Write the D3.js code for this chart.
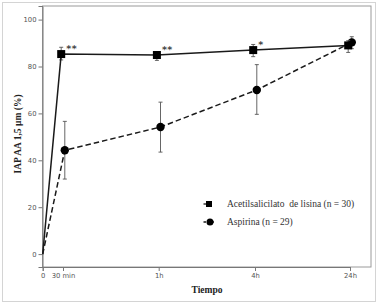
<!DOCTYPE html>
<html><head><meta charset="utf-8">
<script src="https://cdn.jsdelivr.net/npm/d3@7"></script>
<style>
html,body{margin:0;padding:0;background:#fff;}
svg{display:block;}
</style></head>
<body>
<svg id="c" width="378" height="304"></svg>
<script>
// ---- data ----
const timeLabels = ["0", "30 min", "1h", "4h", "24h"];
const timeKeys = [0, 0.5, 1, 4, 24];
const yTicks = [0, 20, 40, 60, 80, 100];

const lisinaMean = [0, 85.3, 84.9, 87.0, 89.0];
const lisinaLow  = [null, 82.8, 82.6, 84.2, 86.0];
const lisinaHigh = [null, 88.2, 86.3, 89.4, 91.0];

const aspirinaMean = [0, 44.3, 54.2, 70.0, 90.3];
const aspirinaLow  = [null, 32.0, 43.5, 59.6, 87.6];
const aspirinaHigh = [null, 56.6, 64.8, 80.8, 92.7];

const signif = ["", "**", "**", "*", ""];
const legendLabels = ["Acetilsalicilato  de lisina (n = 30)", "Aspirina (n = 29)"];
const yTitle = "IAP AA 1,5 µm (%)";
const xTitle = "Tiempo";

// ---- layout ----
const svg = d3.select("#c");
const L = 42.5, R = 371, T = 6, B = 267;
const SERIF = "'Liberation Serif', 'Times New Roman', Times, serif";

const x = d3.scaleLinear().domain(timeKeys).range([42.7, 63, 158.7, 255, 350]);
const y = d3.scaleLinear().domain([-5.5, 105.8]).range([B, T]);

// outer frame
svg.append("rect").attr("x", 2.5).attr("y", 2.5).attr("width", 373).attr("height", 299)
  .attr("fill", "#fff").attr("stroke", "#d4d4d4").attr("stroke-width", 1);

// plot frame
svg.append("rect").attr("x", L).attr("y", T).attr("width", R - L).attr("height", B - T)
  .attr("fill", "none").attr("stroke", "#9a9a9a").attr("stroke-width", 1);

// y axis
const yAxis = d3.axisLeft(y).tickValues(yTicks).tickSize(4).tickPadding(2);
const gy = svg.append("g").attr("transform", `translate(${L},0)`).call(yAxis);
gy.select(".domain").attr("stroke", "#777");
gy.selectAll(".tick line").attr("stroke", "#777");
gy.selectAll(".tick text").attr("fill", "#555").attr("font-family", "DejaVu Sans, sans-serif").attr("font-size", 6.8);

// x axis
const xAxis = d3.axisBottom(x).tickValues(timeKeys).tickFormat((d, i) => timeLabels[i]).tickSize(4).tickPadding(2.5);
const gx = svg.append("g").attr("transform", `translate(0,${B})`).call(xAxis);
gx.select(".domain").attr("stroke", "#777");
gx.selectAll(".tick line").attr("stroke", "#777");
gx.selectAll(".tick text").attr("fill", "#555").attr("font-family", "DejaVu Sans, sans-serif").attr("font-size", 6.8);

// titles
svg.append("text").attr("x", 207).attr("y", 292.5).attr("text-anchor", "middle")
  .style("font-family", SERIF).attr("font-weight", "bold")
  .attr("font-size", 9.5).attr("fill", "#222").text(xTitle);
svg.append("text").attr("transform", "translate(21,134) rotate(-90)").attr("text-anchor", "middle")
  .style("font-family", SERIF).attr("font-weight", "bold")
  .attr("font-size", 9.5).attr("fill", "#222").text(yTitle);

// series
const series = [
  {mean: lisinaMean, low: lisinaLow, high: lisinaHigh, dash: null, shape: "square", dx: -1.8},
  {mean: aspirinaMean, low: aspirinaLow, high: aspirinaHigh, dash: "5.5,3", shape: "circle", dx: 1.8}
];

series.slice().reverse().forEach(s => {
  const pts = timeKeys.map((t, i) => ({t, i, v: s.mean[i], lo: s.low[i], hi: s.high[i]}));
  const px = d => x(d.t) + (d.i === 0 ? 0 : s.dx);
  // error bars
  const eb = svg.append("g").attr("stroke", "#555").attr("stroke-width", 0.9);
  pts.filter(d => d.lo != null).forEach(d => {
    eb.append("line").attr("x1", px(d)).attr("x2", px(d)).attr("y1", y(d.lo)).attr("y2", y(d.hi));
    eb.append("line").attr("x1", px(d) - 2).attr("x2", px(d) + 2).attr("y1", y(d.lo)).attr("y2", y(d.lo));
    eb.append("line").attr("x1", px(d) - 2).attr("x2", px(d) + 2).attr("y1", y(d.hi)).attr("y2", y(d.hi));
  });
  // line
  svg.append("path").datum(pts)
    .attr("d", d3.line().x(px).y(d => y(d.v)))
    .attr("fill", "none").attr("stroke", "#1a1a1a").attr("stroke-width", 1.5)
    .attr("stroke-dasharray", s.dash);
  // markers
  const mk = pts.filter(d => d.i > 0);
  if (s.shape === "square") {
    svg.append("g").selectAll("rect").data(mk).join("rect")
      .attr("x", d => px(d) - 4).attr("y", d => y(d.v) - 4).attr("width", 8).attr("height", 8)
      .attr("fill", "#000");
  } else {
    svg.append("g").selectAll("circle").data(mk).join("circle")
      .attr("cx", px).attr("cy", d => y(d.v)).attr("r", 4.2).attr("fill", "#000");
  }
});

// significance asterisks
svg.append("g").selectAll("text").data(timeKeys.map((t, i) => ({t, i})).filter(d => signif[d.i]))
  .join("text")
  .attr("x", d => x(d.t) + 3.2).attr("y", d => y(lisinaMean[d.i]) - 2)
  .attr("font-family", "DejaVu Sans, sans-serif").attr("font-size", 9.5).attr("font-weight", "bold")
  .attr("letter-spacing", 0.5).attr("fill", "#444")
  .text(d => signif[d.i]);

// legend
const lg = svg.append("g");
[0, 1].forEach(k => {
  const cy = [204, 222][k];
  lg.append("line").attr("x1", 203.5).attr("x2", k === 0 ? 209 : 215).attr("y1", cy).attr("y2", cy)
    .attr("stroke", "#1a1a1a").attr("stroke-width", 1.3).attr("stroke-dasharray", k === 0 ? null : "2.5,1.5");
  if (k === 0) lg.append("rect").attr("x", 206).attr("y", cy - 3).attr("width", 6).attr("height", 6).attr("fill", "#000");
  else lg.append("circle").attr("cx", 210).attr("cy", cy).attr("r", 3.5).attr("fill", "#000");
  lg.append("text").attr("x", 227).attr("y", cy + 3.2)
    .style("font-family", SERIF).attr("font-size", 9.5)
    .attr("fill", "#333").style("white-space", "pre").text(legendLabels[k]);
});
</script>
</body></html>
